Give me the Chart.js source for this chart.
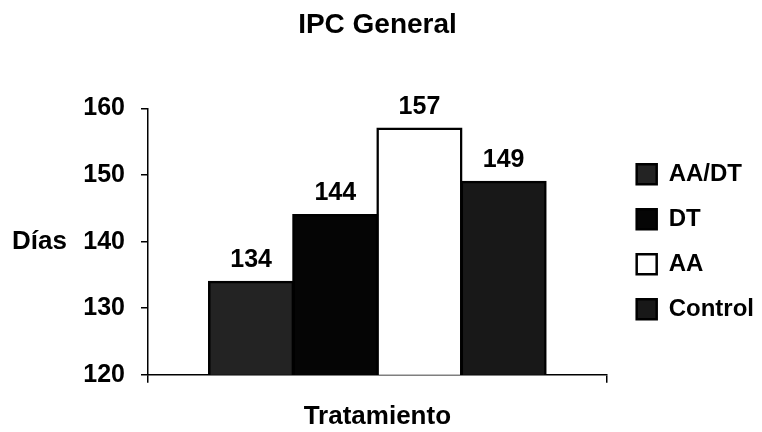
<!DOCTYPE html>
<html>
<head>
<meta charset="utf-8">
<script src="https://cdn.jsdelivr.net/npm/chart.js@4/dist/chart.umd.min.js"></script>
<style>
  html, body { margin: 0; padding: 0; background: #fff; }
  #wrap { width: 762px; height: 432px; }
</style>
</head>
<body>
<div id="wrap"><canvas id="chart"></canvas></div>
<script>
// Datos del gráfico
const categories = ['Tratamiento'];
const seriesNames = ['AA/DT', 'DT', 'AA', 'Control'];
const seriesValues = [134, 144, 157, 149];
const seriesColors = ['#232323', '#050505', '#ffffff', '#181818'];
const yTicks = [120, 130, 140, 150, 160];

const FONT = '"Liberation Sans", Arial, sans-serif';
const LEGEND_SHIFT = 9;   // hueco entre el área del gráfico y la leyenda
const Y_AXIS_WIDTH = 148; // espacio reservado a la izquierda (etiquetas + "Días")

// Etiquetas de valor encima de las barras + título "Días" horizontal
const labelsPlugin = {
    id: 'labelsPlugin',
    afterLayout(chart) {
        // separar un poco la leyenda del área de trazado
        chart.legend.left += LEGEND_SHIFT;
        chart.legend.right += LEGEND_SHIFT;
    },
    afterDatasetsDraw(chart) {
        const ctx = chart.ctx;
        ctx.save();
        ctx.fillStyle = '#000';
        ctx.font = 'bold 25px ' + FONT;
        ctx.textAlign = 'center';
        ctx.textBaseline = 'alphabetic';
        chart.data.datasets.forEach((ds, i) => {
            const bar = chart.getDatasetMeta(i).data[0];
            ctx.fillText(ds.data[0], bar.x, bar.y - 15);
        });
        // "Días" a la izquierda de las marcas
        const yScale = chart.scales.y;
        ctx.font = 'bold 26px ' + FONT;
        ctx.textAlign = 'left';
        ctx.textBaseline = 'middle';
        ctx.fillText('Días', 12, yScale.getPixelForValue(140));
        ctx.restore();
    }
};

const datasets = seriesNames.map((name, i) => ({
    label: name,
    data: [seriesValues[i]],
    backgroundColor: seriesColors[i],
    borderColor: '#000',
    borderWidth: 2.5,
    borderSkipped: 'bottom',
    inflateAmount: 1,
    categoryPercentage: 0.734,
    barPercentage: 1.0
}));

new Chart(document.getElementById('chart'), {
    type: 'bar',
    data: { labels: categories, datasets: datasets },
    options: {
        responsive: true,
        maintainAspectRatio: false,
        animation: false,
        layout: { padding: { left: 0, right: 7, top: 0, bottom: 0 } },
        plugins: {
            title: {
                display: true,
                text: 'IPC General',
                color: '#000',
                font: { family: FONT, size: 28, weight: 'bold' },
                padding: { top: 8, bottom: 67 }
            },
            legend: {
                position: 'right',
                fullSize: false,
                labels: {
                    color: '#000',
                    font: { family: FONT, size: 24, weight: 'bold' },
                    boxWidth: 20,
                    boxHeight: 20,
                    padding: 21,
                    useBorderRadius: false
                }
            },
            tooltip: { enabled: false }
        },
        scales: {
            x: {
                grid: { display: true, drawOnChartArea: false, color: '#000', tickLength: 8, lineWidth: 1.5 },
                border: { display: true, color: '#000', width: 1.5 },
                ticks: { display: false },
                title: {
                    display: true,
                    text: 'Tratamiento',
                    color: '#000',
                    font: { family: FONT, size: 26, weight: 'bold' },
                    padding: { top: 18, bottom: 0 }
                }
            },
            y: {
                min: 120,
                max: 160,
                afterBuildTicks(scale) {
                    scale.ticks = yTicks.map(v => ({ value: v }));
                },
                afterFit(scale) {
                    scale.width = Y_AXIS_WIDTH;
                },
                grid: { display: true, drawOnChartArea: false, color: '#000', tickLength: 7, lineWidth: 1.5 },
                border: { display: true, color: '#000', width: 1.5 },
                ticks: {
                    color: '#000',
                    font: { family: FONT, size: 25, weight: 'bold' },
                    padding: 16
                }
            }
        }
    },
    plugins: [labelsPlugin]
});
</script>
</body>
</html>
